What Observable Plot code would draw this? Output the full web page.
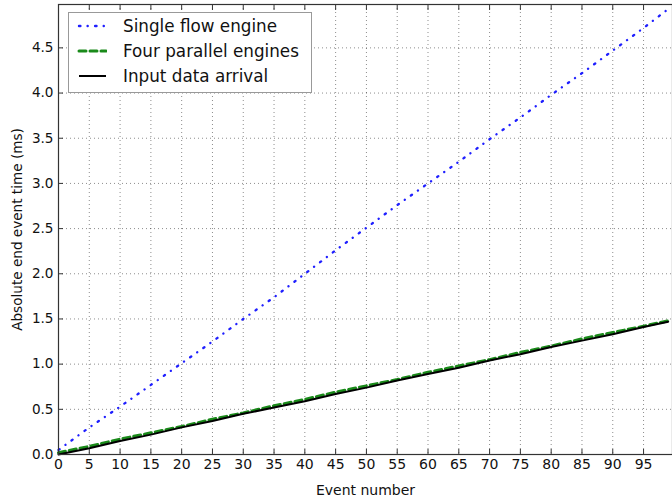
<!DOCTYPE html>
<html>
<head>
<meta charset="utf-8">
<script src="https://cdn.jsdelivr.net/npm/d3@7"></script>
<script src="https://cdn.jsdelivr.net/npm/@observablehq/plot@0.6"></script>
<style>
  html, body { margin: 0; padding: 0; background: #fff; }
  #wrap { position: relative; width: 672px; height: 497px; font-family: "DejaVu Sans", sans-serif; }
  #legend { position: absolute; left: 68px; top: 12px; width: 244px; height: 81px; background: #fff;
            border: 1.2px solid #999; box-sizing: border-box; }
  .row { position: absolute; left: 0; height: 20px; display: flex; align-items: center; font-size: 16.8px; color: #111; }
  .row svg { margin-left: 8px; margin-right: 16px; }
</style>
</head>
<body>
<div id="wrap"></div>
<script>
const events = [0, 5, 10, 15, 20, 25, 30, 35, 40, 45, 50, 55, 60, 65, 70, 75, 80, 85, 90, 95, 99];
const singleFlow = [0.05, 0.30, 0.53, 0.77, 1.01, 1.25, 1.50, 1.74, 2.00, 2.26, 2.51, 2.76, 3.00, 3.24, 3.49, 3.73, 3.98, 4.22, 4.47, 4.72, 4.93];
const fourParallel = [0.02, 0.09, 0.17, 0.24, 0.31, 0.39, 0.46, 0.54, 0.61, 0.69, 0.76, 0.83, 0.91, 0.98, 1.05, 1.13, 1.20, 1.28, 1.35, 1.42, 1.48];
const inputArrival = [0.00, 0.07, 0.15, 0.22, 0.30, 0.37, 0.45, 0.52, 0.59, 0.67, 0.74, 0.82, 0.89, 0.96, 1.04, 1.11, 1.19, 1.26, 1.33, 1.41, 1.47];
const seriesNames = ["Single flow engine", "Four parallel engines", "Input data arrival"];
const xTicks = [0, 5, 10, 15, 20, 25, 30, 35, 40, 45, 50, 55, 60, 65, 70, 75, 80, 85, 90, 95];
const yTicks = [0, 0.5, 1.0, 1.5, 2.0, 2.5, 3.0, 3.5, 4.0, 4.5];
const xLabel = "Event number";
const yLabel = "Absolute end event time (ms)";

const rows = (vals) => events.map((e, i) => ({x: e, y: vals[i]}));

const chart = Plot.plot({
  width: 672,
  height: 497,
  marginLeft: 58,
  marginRight: 0,
  marginTop: 4,
  marginBottom: 43,
  style: {fontFamily: "DejaVu Sans, sans-serif", fontSize: "14px", color: "#111", background: "#fff"},
  x: {domain: [0, 99.7]},
  y: {domain: [0, 4.98]},
  marks: [
    Plot.gridX(xTicks, {stroke: "#000", strokeOpacity: 0.45, strokeDasharray: "1,3", strokeWidth: 1}),
    Plot.gridY(yTicks, {stroke: "#000", strokeOpacity: 0.45, strokeDasharray: "1,3", strokeWidth: 1}),
    Plot.line(rows(singleFlow), {x: "x", y: "y", stroke: "#1f1fff", strokeWidth: 2.3, strokeDasharray: "1.4,7.2,0.1,7.4", strokeLinecap: "round"}),
    Plot.line(rows(fourParallel), {x: "x", y: "y", stroke: "#1a8a1a", strokeWidth: 3, strokeDasharray: "7,4"}),
    Plot.line(rows(inputArrival), {x: "x", y: "y", stroke: "#000", strokeWidth: 2}),
    Plot.frame({stroke: "#333", strokeWidth: 1.2}),
    // inward ticks
    Plot.axisX(xTicks, {anchor: "bottom", tickSize: 5, dy: -5, text: null, stroke: "#333", label: null}),
    Plot.axisX(xTicks, {anchor: "top", tickSize: 5, dy: 5, text: null, stroke: "#333", label: null}),
    Plot.axisY(yTicks, {anchor: "left", tickSize: 5, dx: 5, text: null, stroke: "#333", label: null}),
    // tick labels
    Plot.axisX(xTicks, {anchor: "bottom", tickSize: 0, tickPadding: 5, fontSize: 14, fill: "#111", label: xLabel, labelAnchor: "center", labelArrow: "none", labelOffset: 40}),
    Plot.axisY(yTicks, {anchor: "left", tickSize: 0, tickPadding: 5, fontSize: 13.6, fill: "#111", tickFormat: d3.format(".1f"), label: yLabel, labelAnchor: "center", labelArrow: "none", labelOffset: 46})
  ]
});

const wrap = document.getElementById("wrap");
wrap.appendChild(chart);

const legend = document.createElement("div");
legend.id = "legend";
const styles = [
  {stroke: "#1f1fff", w: 2.4, dash: "1.4,7.2,0.1,7.4"},
  {stroke: "#1a8a1a", w: 3, dash: "7,4"},
  {stroke: "#000", w: 2, dash: null}
];
seriesNames.forEach((name, i) => {
  const row = document.createElement("div");
  row.className = "row";
  row.style.top = (3 + i * 25) + "px";
  const s = styles[i];
  row.innerHTML = `<svg width="30" height="10"><line x1="2" y1="5" x2="29" y2="5" stroke="${s.stroke}" stroke-width="${s.w}" ${s.dash ? `stroke-dasharray="${s.dash}" stroke-linecap="round"` : ""}/></svg><span>${name}</span>`;
  legend.appendChild(row);
});
wrap.appendChild(legend);
</script>
</body>
</html>
